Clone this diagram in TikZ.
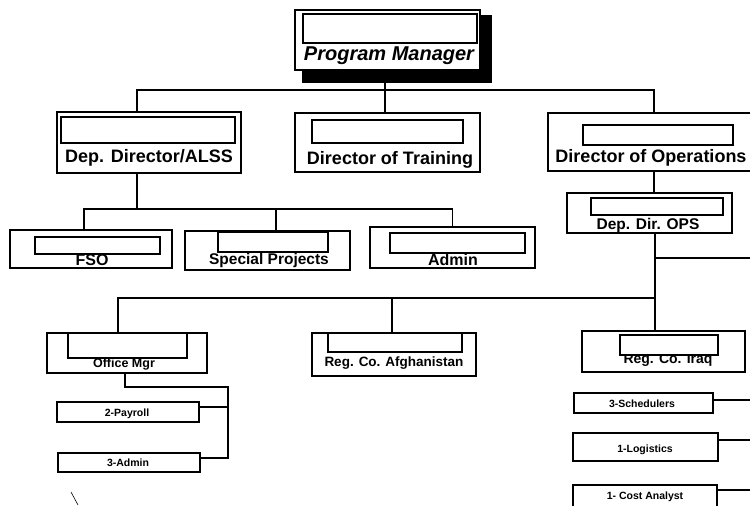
\documentclass[tikz,border=0pt]{standalone}
\usepackage{fontspec}
\setmainfont{Liberation Sans}
\usetikzlibrary{calc}
\tikzset{
  frame/.style={draw, line width=1.5pt, fill=white, inner sep=0pt},
  slot/.style={draw, line width=1.3pt, fill=white, inner sep=0pt},
  wire/.style={line width=1.6pt},
  lbl/.style={anchor=base, inner sep=0pt, font=\bfseries\fontsize{#1}{#1}\selectfont},
  sz/.style n args={2}{minimum width=#1pt, minimum height=#2pt},
}
\begin{document}
\begin{tikzpicture}[x=1pt, y=-1pt]
\useasboundingbox (0,0) rectangle (750,506);
\clip (0,0) rectangle (750,506);
\fill[white] (0,0) rectangle (750,506);

% ---- top: Program Manager with its heavy shadow
\fill[black] (302,15) rectangle (492,83);
\node[frame, sz={185}{60}] (pm) at (387.5,40) {};
\node[lbl=20, font=\bfseries\itshape\fontsize{20}{20}\selectfont] (pmt) at (389,60) {Program Manager};
\node[slot, sz={174}{29}] (pmi) at (390,28.5) {};

% ---- second row
\node[frame, sz={184}{61}] (alss) at (149,142.5) {};
\node[lbl=18] (alsst) at (149,162) {Dep. Director/ALSS};
\node[slot, sz={174}{26}] (alssi) at (148,130) {};

\node[frame, sz={185}{59}] (train) at (387.5,142.5) {};
\node[lbl=18] (traint) at (390,164) {Director of Training};
\node[slot, sz={151}{23}] (traini) at (387.5,131.5) {};

\node[frame, sz={212}{58}] (ops) at (654,142) {};
\node[lbl=18] (opst) at (651,162) {Director of Operations};
\node[slot, sz={150}{20}] (opsi) at (658,135) {};

% ---- deputy of operations
\node[frame, sz={165}{40}] (dep) at (649.5,213) {};
\node[lbl=15.5] (dept) at (648,229) {Dep. Dir. OPS};
\node[slot, sz={132}{17}] (depi) at (657,206.5) {};

% ---- third row under ALSS
\node[frame, sz={162}{38}] (fso) at (91,249) {};
\node[lbl=16] (fsot) at (92,265) {FSO};
\node[slot, sz={125}{17}] (fsoi) at (97.5,245.5) {};

\node[frame, sz={165}{39}] (sp) at (267.5,250.5) {};
\node[lbl=15.5] (spt) at (269,264) {Special Projects};
\node[slot, sz={110}{20}] (spi) at (273,242) {};

\node[frame, sz={165}{41}] (adm) at (452.5,247.5) {};
\node[lbl=16] (admt) at (453,265.5) {Admin};
\node[slot, sz={135}{20}] (admi) at (457.5,243) {};

% ---- fourth row
\node[frame, sz={160}{40}] (ofm) at (127,353) {};
\node[lbl=12.5] (ofmt) at (124,367) {Office Mgr};
\node[slot, sz={119}{25}] (ofmi) at (127.5,345.5) {};

\node[frame, sz={164}{43}] (afg) at (394,354.5) {};
\node[lbl=13.5] (afgt) at (394,366) {Reg. Co. Afghanistan};
\node[slot, sz={134}{19}] (afgi) at (395,342.5) {};

\node[frame, sz={163}{41}] (iraq) at (663.5,351.5) {};
\node[lbl=14] (iraqt) at (668,363.5) {Reg. Co. Iraq};
\node[slot, sz={98}{20}] (iraqi) at (669,345) {};

% ---- small staff boxes
\node[frame, sz={142}{20}] (pay) at (128,412) {};
\node[lbl=10.5] (payt) at (127,416) {2-Payroll};
\node[frame, sz={142}{19}] (adm3) at (129,462.5) {};
\node[lbl=10.5] (adm3t) at (128,466) {3-Admin};

\node[frame, sz={139}{20}] (sched) at (643.5,403) {};
\node[lbl=10.5] (schedt) at (642,407) {3-Schedulers};
\node[frame, sz={145}{28}] (logi) at (645.5,447) {};
\node[lbl=10.5] (logit) at (645,452) {1-Logistics};
\node[frame, sz={144}{30}] (cost) at (645,500) {};
\node[lbl=10.5] (costt) at (645,499) {1- Cost Analyst};

% ---- connectors
\coordinate (bus1) at (0,90);
\draw[wire] ([xshift=-2.5pt]pm.south) -- ([xshift=-2.5pt]pm.south |- train.north);
\draw[wire] ([xshift=-12pt]alss.north) |- (train.north |- bus1) -| (ops.north);

\draw[wire] ([xshift=-12pt]alss.south) -- ++(0,35) coordinate (bus2);
\draw[wire] ([xshift=-7pt]fso.north) |- (bus2) -| (adm.north);
\draw[wire] ([xshift=8.5pt]sp.north) -- ([xshift=8.5pt]sp.north |- bus2);

\draw[wire] (ops.south) -- (ops.south |- dep.north);
\coordinate (b4) at (655,298);
\coordinate (e1) at (752,258);
\draw[wire] (dep.south -| b4) -- (iraq.north -| b4);
\draw[wire] (e1 -| b4) -- (e1);
\draw[wire] ([xshift=-9pt]ofm.north) |- (b4);
\draw[wire] ([xshift=-2pt]afg.north) -- ([xshift=-2pt]afg.north |- b4);

\coordinate (b5) at (228,387);
\draw[wire] ([xshift=-2pt]ofm.south) |- (b5) |- ([yshift=4.5pt]adm3.east);
\draw[wire] ([yshift=5pt]pay.east) -| (b5);

\coordinate (r1) at (752,400);
\coordinate (r2) at (752,440);
\coordinate (r3) at (752,490);
\draw[wire] (sched.east |- r1) -- (r1);
\draw[wire] (logi.east |- r2) -- (r2);
\draw[wire] (cost.east |- r3) -- (r3);

% small pen stroke near the lower left
\draw[line width=0.6pt] (71,492) -- (78,505);
\end{tikzpicture}
\end{document}
